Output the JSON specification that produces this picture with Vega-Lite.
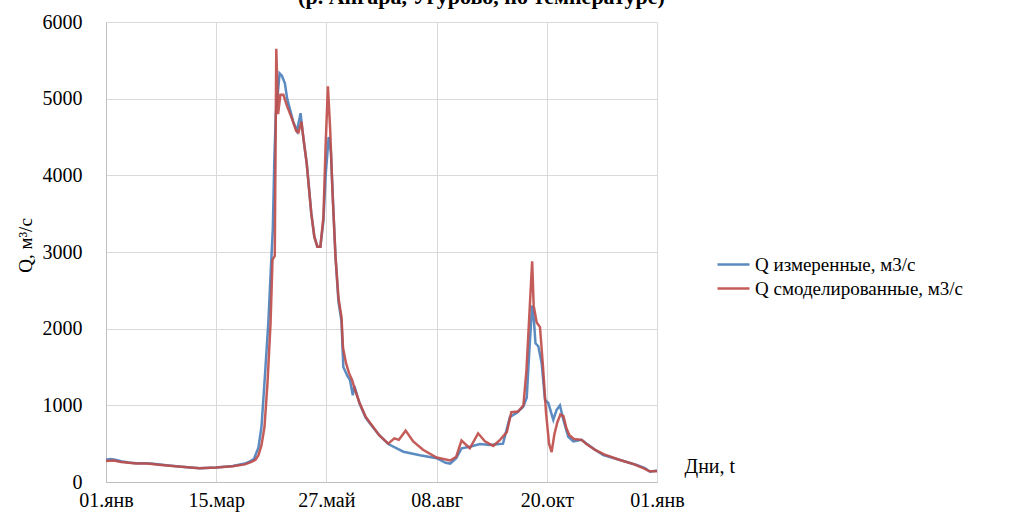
{
  "$schema": "https://vega.github.io/schema/vega-lite/v6.json",
  "width": 551,
  "height": 460,
  "autosize": {"type": "none"},
  "padding": {"left": 106, "top": 22, "right": 360, "bottom": 32},
  "background": "white",
  "title": {
    "text": "(р. Ангара, Угурово, по температуре)",
    "font": "Liberation Serif",
    "fontSize": 22,
    "fontWeight": "bold",
    "color": "#000000",
    "anchor": "middle",
    "dx": 100,
    "offset": 3
  },
  "config": {
    "view": {"stroke": null},
    "font": "Liberation Serif"
  },
  "data": {
    "values": [
      {"d":0,"s":"a","q":290},{"d":3,"s":"a","q":300},{"d":6,"s":"a","q":290},{"d":10,"s":"a","q":270},{"d":15,"s":"a","q":255},{"d":20,"s":"a","q":245},{"d":25,"s":"a","q":245},{"d":30,"s":"a","q":240},{"d":40,"s":"a","q":220},{"d":50,"s":"a","q":200},{"d":62,"s":"a","q":178},{"d":73,"s":"a","q":190},{"d":84,"s":"a","q":210},{"d":92,"s":"a","q":240},{"d":95,"s":"a","q":265},{"d":98,"s":"a","q":300},{"d":101,"s":"a","q":450},{"d":103,"s":"a","q":720},{"d":105,"s":"a","q":1300},{"d":107.5,"s":"a","q":2070},{"d":109,"s":"a","q":2700},{"d":110.5,"s":"a","q":3300},{"d":111.5,"s":"a","q":4200},{"d":112.5,"s":"a","q":4800},{"d":113.5,"s":"a","q":5000},{"d":115,"s":"a","q":5330},{"d":116.5,"s":"a","q":5300},{"d":118.5,"s":"a","q":5200},{"d":120,"s":"a","q":5000},{"d":122,"s":"a","q":4850},{"d":124,"s":"a","q":4700},{"d":126.5,"s":"a","q":4580},{"d":128.9,"s":"a","q":4810},{"d":130,"s":"a","q":4600},{"d":133,"s":"a","q":4150},{"d":136,"s":"a","q":3500},{"d":138,"s":"a","q":3200},{"d":140,"s":"a","q":3070},{"d":142,"s":"a","q":3070},{"d":144,"s":"a","q":3400},{"d":145.5,"s":"a","q":4000},{"d":147.5,"s":"a","q":4500},{"d":149,"s":"a","q":4300},{"d":150.5,"s":"a","q":3600},{"d":152,"s":"a","q":2950},{"d":154,"s":"a","q":2350},{"d":156,"s":"a","q":2100},{"d":157.2,"s":"a","q":1500},{"d":160,"s":"a","q":1380},{"d":161.6,"s":"a","q":1330},{"d":163.5,"s":"a","q":1130},{"d":164.5,"s":"a","q":1250},{"d":168,"s":"a","q":1020},{"d":172,"s":"a","q":840},{"d":175,"s":"a","q":760},{"d":181,"s":"a","q":610},{"d":187,"s":"a","q":495},{"d":192.6,"s":"a","q":440},{"d":197,"s":"a","q":395},{"d":208,"s":"a","q":350},{"d":219,"s":"a","q":310},{"d":225,"s":"a","q":250},{"d":228,"s":"a","q":240},{"d":232,"s":"a","q":310},{"d":235.6,"s":"a","q":440},{"d":241,"s":"a","q":460},{"d":247.7,"s":"a","q":495},{"d":254.4,"s":"a","q":483},{"d":263,"s":"a","q":500},{"d":267.6,"s":"a","q":850},{"d":272,"s":"a","q":900},{"d":276.4,"s":"a","q":980},{"d":278.7,"s":"a","q":1100},{"d":280.4,"s":"a","q":1700},{"d":282.3,"s":"a","q":2300},{"d":283.5,"s":"a","q":2100},{"d":284.5,"s":"a","q":1810},{"d":286.4,"s":"a","q":1770},{"d":288.6,"s":"a","q":1550},{"d":290.8,"s":"a","q":1070},{"d":293,"s":"a","q":1030},{"d":296.3,"s":"a","q":810},{"d":298.5,"s":"a","q":940},{"d":300.7,"s":"a","q":1000},{"d":303,"s":"a","q":810},{"d":306.2,"s":"a","q":590},{"d":309.6,"s":"a","q":530},{"d":315.1,"s":"a","q":550},{"d":318.4,"s":"a","q":500},{"d":324,"s":"a","q":420},{"d":329.4,"s":"a","q":350},{"d":340.5,"s":"a","q":287},{"d":351.5,"s":"a","q":222},{"d":357,"s":"a","q":180},{"d":360.4,"s":"a","q":134},{"d":365,"s":"a","q":150},
      {"d":0,"s":"b","q":275},{"d":5,"s":"b","q":280},{"d":10,"s":"b","q":262},{"d":20,"s":"b","q":240},{"d":27,"s":"b","q":240},{"d":40,"s":"b","q":215},{"d":50,"s":"b","q":198},{"d":62,"s":"b","q":178},{"d":73,"s":"b","q":188},{"d":84,"s":"b","q":205},{"d":92,"s":"b","q":230},{"d":96,"s":"b","q":260},{"d":99,"s":"b","q":290},{"d":101,"s":"b","q":350},{"d":103,"s":"b","q":480},{"d":105,"s":"b","q":720},{"d":107,"s":"b","q":1300},{"d":109,"s":"b","q":2070},{"d":110.3,"s":"b","q":2900},{"d":111.8,"s":"b","q":2950},{"d":112.8,"s":"b","q":5650},{"d":114,"s":"b","q":4800},{"d":115.5,"s":"b","q":5050},{"d":117.5,"s":"b","q":5050},{"d":120,"s":"b","q":4900},{"d":123,"s":"b","q":4750},{"d":126,"s":"b","q":4580},{"d":127.5,"s":"b","q":4560},{"d":129.5,"s":"b","q":4700},{"d":131,"s":"b","q":4450},{"d":133,"s":"b","q":4150},{"d":136,"s":"b","q":3500},{"d":138,"s":"b","q":3200},{"d":140,"s":"b","q":3070},{"d":142,"s":"b","q":3070},{"d":144,"s":"b","q":3450},{"d":145.5,"s":"b","q":4400},{"d":147,"s":"b","q":5160},{"d":148.5,"s":"b","q":4600},{"d":150,"s":"b","q":3800},{"d":152,"s":"b","q":2950},{"d":154,"s":"b","q":2400},{"d":156,"s":"b","q":2150},{"d":157,"s":"b","q":1750},{"d":159,"s":"b","q":1550},{"d":161,"s":"b","q":1420},{"d":163,"s":"b","q":1330},{"d":165,"s":"b","q":1200},{"d":168,"s":"b","q":1030},{"d":172,"s":"b","q":850},{"d":175,"s":"b","q":770},{"d":181,"s":"b","q":610},{"d":187,"s":"b","q":500},{"d":191,"s":"b","q":570},{"d":194,"s":"b","q":550},{"d":198.5,"s":"b","q":670},{"d":203.5,"s":"b","q":530},{"d":210,"s":"b","q":420},{"d":219,"s":"b","q":320},{"d":228,"s":"b","q":280},{"d":232,"s":"b","q":330},{"d":235.5,"s":"b","q":540},{"d":241,"s":"b","q":440},{"d":246.5,"s":"b","q":635},{"d":251,"s":"b","q":530},{"d":256.5,"s":"b","q":470},{"d":261,"s":"b","q":550},{"d":265.5,"s":"b","q":650},{"d":268.5,"s":"b","q":910},{"d":273,"s":"b","q":920},{"d":276.5,"s":"b","q":1000},{"d":278.5,"s":"b","q":1450},{"d":280.5,"s":"b","q":2200},{"d":282.3,"s":"b","q":2880},{"d":283.3,"s":"b","q":2300},{"d":285.3,"s":"b","q":2080},{"d":287.5,"s":"b","q":2020},{"d":289.5,"s":"b","q":1500},{"d":291.5,"s":"b","q":900},{"d":293.5,"s":"b","q":500},{"d":295.2,"s":"b","q":390},{"d":297,"s":"b","q":620},{"d":299,"s":"b","q":780},{"d":301,"s":"b","q":880},{"d":303,"s":"b","q":860},{"d":305,"s":"b","q":700},{"d":307,"s":"b","q":610},{"d":310,"s":"b","q":560},{"d":315,"s":"b","q":550},{"d":318,"s":"b","q":500},{"d":324,"s":"b","q":420},{"d":330,"s":"b","q":360},{"d":340,"s":"b","q":290},{"d":350,"s":"b","q":230},{"d":357,"s":"b","q":170},{"d":360,"s":"b","q":140},{"d":365,"s":"b","q":140}
    ]
  },
  "mark": {"type": "line", "strokeWidth": 2.5, "opacity": 0.9, "interpolate": "linear"},
  "encoding": {
    "x": {
      "field": "d",
      "type": "quantitative",
      "scale": {"domain": [0, 365], "nice": false, "zero": false},
      "axis": {
        "values": [0, 73, 146, 219, 292, 365],
        "labelExpr": "['01.янв','15.мар','27.май','08.авг','20.окт','01.янв'][round(datum.value/73)]",
        "labelFont": "Liberation Serif",
        "labelFontSize": 20,
        "labelColor": "#000000",
        "labelPadding": 8,
        "labelFlush": false,
        "labelBound": false,
        "ticks": false,
        "tickSize": 0,
        "grid": true,
        "gridColor": "#d9d9d9",
        "gridWidth": 1,
        "domainColor": "#bfbfbf",
        "title": "Дни, t",
        "titleFont": "Liberation Serif",
        "titleFontSize": 20,
        "titleFontWeight": "normal",
        "titleColor": "#000000",
        "titleX": 578,
        "titleY": -16,
        "titleAlign": "left",
        "titleBaseline": "middle",
        "labelOverlap": false
      }
    },
    "y": {
      "field": "q",
      "type": "quantitative",
      "scale": {"domain": [0, 6000], "nice": false},
      "axis": {
        "values": [0, 1000, 2000, 3000, 4000, 5000, 6000],
        "format": "d",
        "labelFont": "Liberation Serif",
        "labelFontSize": 20,
        "labelColor": "#000000",
        "labelPadding": 24,
        "labelFlush": false,
        "ticks": false,
        "tickSize": 0,
        "grid": true,
        "gridColor": "#d9d9d9",
        "gridWidth": 1,
        "domainColor": "#bfbfbf",
        "title": "Q, м³/с",
        "titleFont": "Liberation Serif",
        "titleFontSize": 19,
        "titleFontWeight": "normal",
        "titleColor": "#000000",
        "titleAngle": -90,
        "titleX": -81,
        "titleY": 223,
        "titleAlign": "center",
        "titleBaseline": "middle"
      }
    },
    "color": {
      "field": "s",
      "type": "nominal",
      "scale": {"domain": ["a", "b"], "range": ["#4A7EBB", "#BE4B48"]},
      "legend": {
        "title": null,
        "orient": "none",
        "legendX": 626,
        "legendY": 233,
        "padding": 0,
        "symbolType": "M-3,0H1",
        "symbolSize": 256,
        "symbolStrokeWidth": 2.5,
        "labelFont": "Liberation Serif",
        "labelFontSize": 19,
        "labelColor": "#000000",
        "labelOffset": 4,
        "rowPadding": 4,
        "labelLimit": 400,
        "labelExpr": "datum.label == 'a' ? 'Q измеренные, м3/с' : 'Q смоделированные, м3/с'"
      }
    }
  }
}
